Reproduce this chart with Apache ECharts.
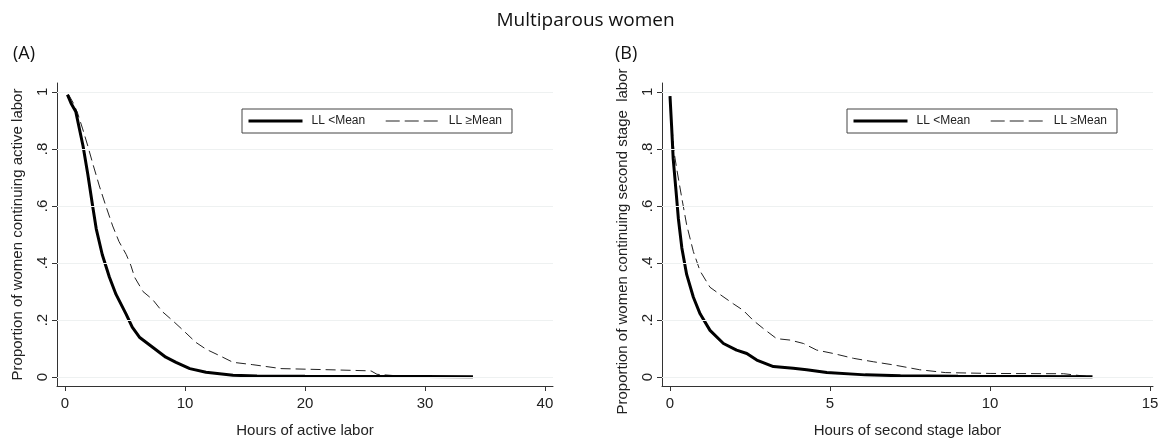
<!DOCTYPE html>
<html>
<head>
<meta charset="utf-8">
<script src="https://cdn.jsdelivr.net/npm/echarts@6/dist/echarts.min.js"></script>
<style>
html,body{margin:0;padding:0;background:#fff;}
#chart{width:1171px;height:443px;}
</style>
</head>
<body>
<div id="chart"></div>
<script>
// ---- Data ----
const seriesNames = ['LL <Mean', 'LL \u2265Mean'];
const yTickValues = [0, 0.2, 0.4, 0.6, 0.8, 1];
const xTicksActive = [0, 10, 20, 30, 40];
const xTicksSecond = [0, 5, 10, 15];

// Panel A: hours of active labor
const activeBelowX = [0.2, 0.5, 0.9, 1.2, 1.5, 1.9, 2.3, 2.6, 3.1, 3.7, 4.25, 5.1, 5.6, 6.2, 7.3, 8.4, 9.25, 10.4, 11.75, 14, 16, 20, 25, 30, 34];
const activeBelowY = [0.99, 0.96, 0.93, 0.87, 0.81, 0.71, 0.60, 0.52, 0.43, 0.35, 0.29, 0.22, 0.175, 0.14, 0.105, 0.07, 0.052, 0.03, 0.017, 0.007, 0.004, 0.003, 0.002, 0.002, 0.001];
const activeAboveX = [0.3, 0.7, 1.05, 1.47, 1.9, 2.3, 2.86, 3.4, 3.97, 4.5, 5.1, 5.5, 5.8, 6.5, 7.3, 8.1, 9.0, 9.9, 10.9, 11.75, 12.9, 14, 15.6, 18, 22, 25.5, 26, 28.5];
const activeAboveY = [0.99, 0.96, 0.925, 0.87, 0.81, 0.75, 0.67, 0.60, 0.53, 0.475, 0.43, 0.39, 0.35, 0.30, 0.272, 0.23, 0.197, 0.162, 0.122, 0.098, 0.075, 0.052, 0.044, 0.03, 0.026, 0.022, 0.01, 0.002];

// Panel B: hours of second stage labor
const secondBelowX = [0, 0.05, 0.1, 0.19, 0.26, 0.37, 0.52, 0.73, 0.94, 1.25, 1.67, 2.08, 2.4, 2.71, 3.23, 3.85, 4.27, 4.9, 6.1, 7.2, 9, 11, 13.2];
const secondBelowY = [0.985, 0.88, 0.765, 0.65, 0.557, 0.453, 0.36, 0.28, 0.222, 0.164, 0.118, 0.095, 0.083, 0.06, 0.037, 0.031, 0.026, 0.016, 0.008, 0.005, 0.003, 0.002, 0.001];
const secondAboveX = [0, 0.06, 0.125, 0.21, 0.37, 0.52, 0.73, 0.94, 1.25, 1.56, 1.98, 2.29, 2.6, 2.92, 3.33, 3.75, 4.17, 4.58, 5.1, 5.73, 6.35, 6.98, 7.8, 8.6, 10, 12.3, 13];
const secondAboveY = [0.985, 0.88, 0.79, 0.73, 0.627, 0.534, 0.44, 0.372, 0.315, 0.29, 0.257, 0.234, 0.199, 0.17, 0.135, 0.13, 0.118, 0.095, 0.083, 0.066, 0.054, 0.043, 0.026, 0.016, 0.013, 0.012, 0.003];

const pairs = (xs, ys) => xs.map((x, i) => [x, ys[i]]);

const FONT = '"Liberation Sans", Arial, sans-serif';
const TITLE_FONT = '"Open Sans", sans-serif';
const axisColor = '#333';
const textColor = '#222';

function yFmt(v) {
  if (Math.abs(v) < 1e-9) return '0';
  if (Math.abs(v - 1) < 1e-9) return '1';
  return String(Math.round(v * 10) / 10).replace(/^0/, '');
}

function makeX(idx, min, max, ticks, name) {
  return {
    type: 'value', gridIndex: idx, min: min, max: max,
    name: name, nameLocation: 'middle', nameGap: 37,
    nameTextStyle: {fontFamily: FONT, fontSize: 15, color: textColor},
    axisLine: {show: true, onZero: false, lineStyle: {color: axisColor, width: 1}},
    axisTick: {show: true, length: 5, customValues: ticks, lineStyle: {color: axisColor}},
    axisLabel: {customValues: ticks, margin: 10, fontFamily: FONT, fontSize: 15, color: textColor},
    splitLine: {show: false}
  };
}
function makeY(idx, name, shift) {
  return {
    type: 'value', gridIndex: idx, min: -0.031, max: 1.031,
    name: name, nameLocation: 'middle', nameGap: 32,
    nameTextStyle: {fontFamily: FONT, fontSize: 15, color: textColor, padding: shift},
    axisLine: {show: true, onZero: false, lineStyle: {color: axisColor, width: 1}},
    axisTick: {show: true, length: 5, customValues: yTickValues, lineStyle: {color: axisColor}},
    axisLabel: {customValues: yTickValues, rotate: 90, margin: 7, fontFamily: FONT, fontSize: 15, color: textColor, formatter: yFmt},
    splitLine: {show: false}
  };
}

const solidStyle = {color: '#000', width: 3, type: 'solid'};
const dashStyle = {color: '#222', width: 1, type: [10, 5]};

function legendAt(left) {
  return {
    left: left, top: 109, orient: 'horizontal',
    data: [
      {name: seriesNames[0], lineStyle: {color: '#000', width: 3, type: 'solid'}},
      {name: seriesNames[1], lineStyle: {color: '#222', width: 1, type: [14, 5]}}
    ],
    borderColor: '#444', borderWidth: 1, borderRadius: 0,
    padding: [6, 10, 6, 5], itemGap: 20,
    itemWidth: 54, itemHeight: 10,
    itemStyle: {color: 'rgba(0,0,0,0)', borderWidth: 0, opacity: 0},
    textStyle: {fontFamily: FONT, fontSize: 12, color: textColor, padding: [0, 0, 0, 4]},
    selectedMode: false
  };
}

const chart = echarts.init(document.getElementById('chart'), null, {renderer: 'canvas'});
const markLines = {
  silent: true, symbol: 'none', label: {show: false},
  lineStyle: {color: '#eef1f1', width: 1, type: 'solid'},
  data: yTickValues.map(v => ({yAxis: v}))
};
const lineCommon = {type: 'line', symbol: 'none', smooth: false};

chart.setOption({
  animation: false,
  backgroundColor: '#fff',
  title: [
    {text: 'Multiparous women', left: 'center', top: 6, textStyle: {fontFamily: TITLE_FONT, fontSize: 19, fontWeight: 'normal', color: '#111'}},
    {text: '(A)', left: 8, top: 40, textStyle: {fontFamily: TITLE_FONT, fontSize: 18, fontWeight: 'normal', color: '#111'}},
    {text: '(B)', left: 610, top: 40, textStyle: {fontFamily: TITLE_FONT, fontSize: 18, fontWeight: 'normal', color: '#111'}}
  ],
  legend: [legendAt(242), legendAt(847)],
  grid: [
    {left: 57, top: 83, width: 496, height: 306, containLabel: false},
    {left: 662, top: 83, width: 491, height: 306, containLabel: false}
  ],
  xAxis: [
    makeX(0, -0.67, 40.67, xTicksActive, 'Hours of active labor'),
    makeX(1, -0.25, 15.09, xTicksSecond, 'Hours of second stage labor')
  ],
  yAxis: [
    makeY(0, 'Proportion of women continuing active labor', [0, 0, 0, 0]),
    makeY(1, 'Proportion of women continuing second stage  labor', [0, 14, 0, 0])
  ],
  series: [
    Object.assign({name: seriesNames[0], xAxisIndex: 0, yAxisIndex: 0, data: pairs(activeBelowX, activeBelowY), lineStyle: solidStyle, itemStyle: {color: '#000'}, z: 3, markLine: markLines}, lineCommon),
    Object.assign({name: seriesNames[1], xAxisIndex: 0, yAxisIndex: 0, data: pairs(activeAboveX, activeAboveY), lineStyle: dashStyle, itemStyle: {color: '#222'}, z: 2}, lineCommon),
    Object.assign({name: seriesNames[0], xAxisIndex: 1, yAxisIndex: 1, data: pairs(secondBelowX, secondBelowY), lineStyle: solidStyle, itemStyle: {color: '#000'}, z: 3, markLine: markLines}, lineCommon),
    Object.assign({name: seriesNames[1], xAxisIndex: 1, yAxisIndex: 1, data: pairs(secondAboveX, secondAboveY), lineStyle: dashStyle, itemStyle: {color: '#222'}, z: 2}, lineCommon)
  ]
});
</script>
</body>
</html>
